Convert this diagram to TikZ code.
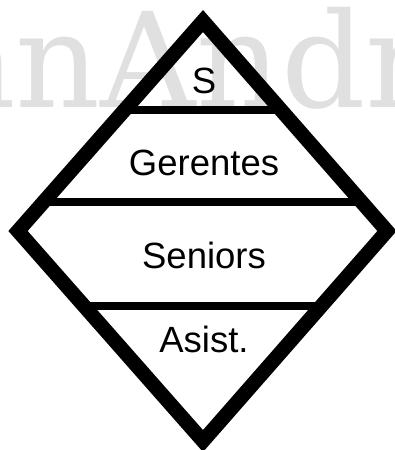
\documentclass[tikz,border=0pt]{standalone}
\usepackage{fontspec}
\setmainfont{Liberation Sans}
\newfontfamily\markfont{DejaVu Serif}
\usetikzlibrary{calc}
\begin{document}
\begin{tikzpicture}[x=1pt, y=-1pt,
    lbl/.style={font=\fontsize{36.5}{40}\selectfont, anchor=base, inner sep=0pt},
    tier/.style={line width=8.5pt}]
  \useasboundingbox (0,0) rectangle (395,450);
  \begin{scope}
    \clip (0,0) rectangle (395,450);
    \node[anchor=base west, inner sep=0pt, text=black!12,
      font=\markfont\fontsize{132}{140}\selectfont] (mark) at (-63,107) {anAndr};
  \end{scope}
  \coordinate (top) at (203,21);
  \coordinate (right) at (387,231);
  \coordinate (bottom) at (203,441);
  \coordinate (left) at (18,231);
  % tiers
  \draw[tier] ($(top)!0.4238!(left)$) -- ($(top)!0.4238!(right)$);
  \draw[tier] ($(top)!0.862!(left)$) -- ($(top)!0.862!(right)$);
  \draw[tier] ($(left)!0.357!(bottom)$) -- ($(right)!0.357!(bottom)$);
  \draw[line width=14.5pt] (top) -- (right) -- (bottom) -- (left) -- cycle;
  \node[lbl] (s) at (204,93) {S};
  \node[lbl] (gerentes) at (204,175) {Gerentes};
  \node[lbl] (seniors) at (204,268) {Seniors};
  \node[lbl] (asist) at (204,352) {Asist.};
\end{tikzpicture}
\end{document}
